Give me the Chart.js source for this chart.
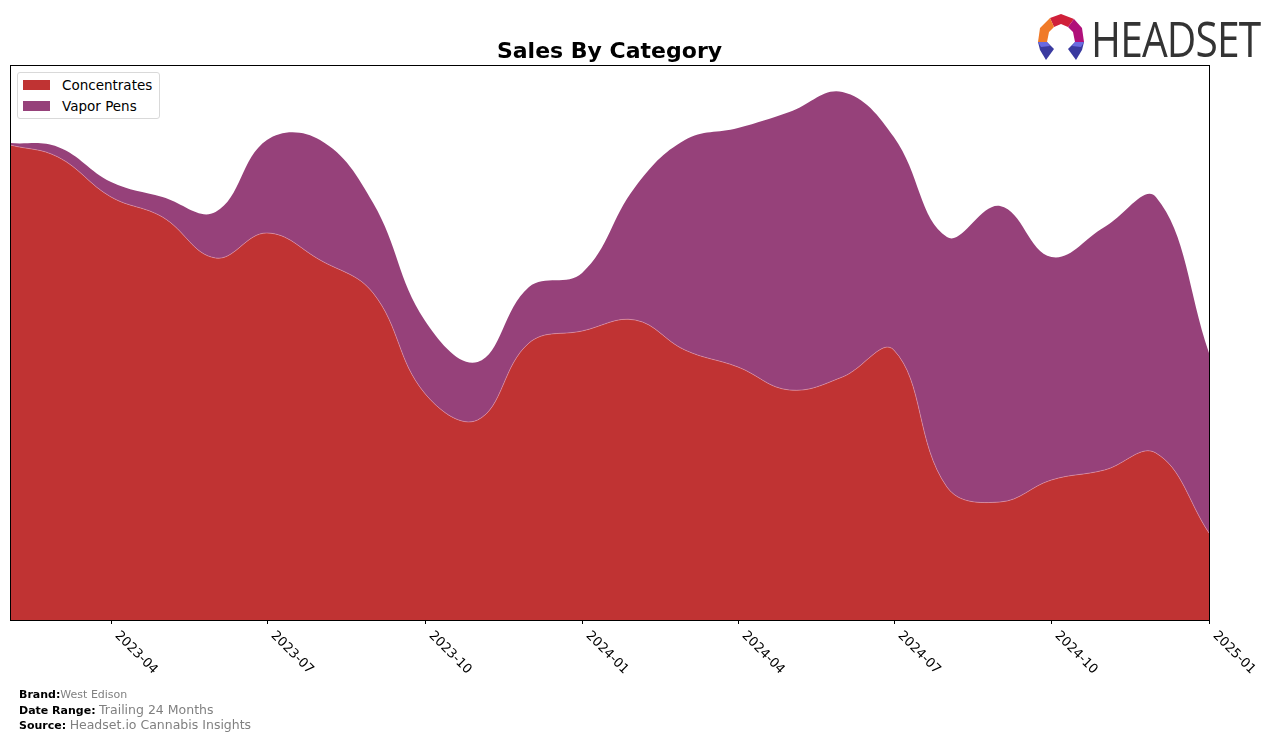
<!DOCTYPE html>
<html>
<head>
<meta charset="utf-8">
<script src="https://cdn.jsdelivr.net/npm/chart.js@4/dist/chart.umd.min.js"></script>
<style>
  html, body { margin: 0; padding: 0; background: #fff; }
  #wrap { position: relative; width: 1276px; height: 741px; overflow: hidden; font-family: "DejaVu Sans", sans-serif; }
  canvas { position: absolute; left: 0; top: 0; }
  #title { position: absolute; left: 0; width: 1219px; top: 38px; text-align: center; font-weight: bold; font-size: 22px; color: #000; }
  #legend { position: absolute; left: 17px; top: 72px; width: 141px; height: 45px; border: 1px solid #d9d9d9; border-radius: 3px; background: #fff; font-size: 13.5px; color: #000; }
  .item { position: absolute; left: 5px; height: 16px; line-height: 16px; }
  .swatch { display: inline-block; width: 27px; height: 10px; vertical-align: middle; margin-right: 12px; position: relative; top: -1px; }
  #footer { position: absolute; left: 19px; top: 688px; font-size: 11px; line-height: 14.5px; color: #000; }
  #footer b { font-weight: bold; }
  #footer span { color: #808080; }
  #logo { position: absolute; left: 1038px; top: 14px; }
  #logotext { position: absolute; left: 1091px; top: 5px; font-family: "Open Sans", sans-serif; font-size: 49px; color: #333; letter-spacing: -1px; transform: scaleX(0.83); transform-origin: left top; }
</style>
</head>
<body>
<div id="wrap">
  <canvas id="chart" width="1276" height="741"></canvas>
  <div id="title">Sales By Category</div>
  <div id="legend">
    <div class="item" style="top:4px"><span class="swatch" style="background:#c03333"></span>Concentrates</div>
    <div class="item" style="top:25px"><span class="swatch" style="background:#96417a"></span>Vapor Pens</div>
  </div>
  <div id="footer">
    <div><b>Brand:</b><span>West Edison</span></div>
    <div><b>Date Range:</b> <span style="font-size:12.5px">Trailing 24 Months</span></div>
    <div><b>Source:</b> <span style="font-size:12.5px">Headset.io Cannabis Insights</span></div>
  </div>
  <svg id="logo" width="48" height="48" viewBox="0 0 48 48">
    <polygon points="12,4 23,0 36,5 30,13 23,10 16,13" fill="#d0203a"/>
    <polygon points="36,5 44,14 46,28 37,28 35,18 30,13" fill="#b0107a"/>
    <polygon points="12,4 16,13 11,18 9,28 0,28 2,14" fill="#f07a28"/>
    <polygon points="0,28 9,28 16,35 8,46 2,36" fill="#3a3aa0"/>
    <polygon points="46,28 37,28 30,35 38,46 44,36" fill="#3a3aa0"/>
    <polygon points="0,28 9,28 12,32 3,33" fill="#6a6ae0"/>
    <polygon points="46,28 37,28 34,32 43,33" fill="#6a6ae0"/>
  </svg>
  <div id="logotext">HEADSET</div>
</div>
<script>
const months = ["2023-02", "2023-03", "2023-04", "2023-05", "2023-06", "2023-07", "2023-08", "2023-09",
  "2023-10", "2023-11", "2023-12", "2024-01", "2024-02", "2024-03", "2024-04", "2024-05", "2024-06",
  "2024-07", "2024-08", "2024-09", "2024-10", "2024-11", "2024-12", "2025-01"];
const concentrates = [475, 463, 423, 403, 362, 387, 360, 327, 227, 200, 277, 289,
  300, 270, 253, 230, 243, 270, 133, 118, 140, 150, 167, 87];
const vaporPens = [2, 10, 15, 20, 46, 93, 120, 90, 73, 58, 56, 58,
  133, 210, 239, 278, 285, 213, 250, 296, 223, 243, 256, 180];
const tickLabels = ["2023-04", "2023-07", "2023-10", "2024-01", "2024-04", "2024-07", "2024-10", "2025-01"];

const DAY = 86400000;
function dayOf(ym) {
  const [y, m] = ym.split("-").map(Number);
  return Date.UTC(y, m - 1, 1) / DAY;
}
const start = dayOf(months[0]);
const end = dayOf(months[months.length - 1]);
const toPoints = (vals) => vals.map((v, i) => ({ x: dayOf(months[i]) - start, y: v }));

const axesPlugin = {
  id: "axesPlugin",
  afterDraw(chart) {
    const { ctx, chartArea: a, scales } = chart;
    ctx.save();
    ctx.strokeStyle = "#000";
    ctx.lineWidth = 1;
    ctx.strokeRect(a.left + 0.5, a.top + 0.5, a.right - a.left, a.bottom - a.top);
    ctx.fillStyle = "#000";
    ctx.font = "13px 'DejaVu Sans'";
    ctx.textAlign = "left";
    ctx.textBaseline = "top";
    tickLabels.forEach((t) => {
      const x = Math.round(scales.x.getPixelForValue(dayOf(t) - start)) + 0.5;
      ctx.beginPath();
      ctx.moveTo(x, a.bottom);
      ctx.lineTo(x, a.bottom + 4);
      ctx.stroke();
      ctx.save();
      ctx.translate(x + 10, a.bottom + 9);
      ctx.rotate(Math.PI / 4);
      ctx.fillText(t, 0, 0);
      ctx.restore();
    });
    ctx.restore();
  }
};

new Chart(document.getElementById("chart"), {
  type: "line",
  data: {
    datasets: [
      {
        label: "Concentrates",
        data: toPoints(concentrates),
        backgroundColor: "#c03333",
        borderColor: "rgba(230,170,200,0.6)",
        borderWidth: 0.8,
        fill: "origin",
        pointRadius: 0,
        tension: 0.4
      },
      {
        label: "Vapor Pens",
        data: toPoints(vaporPens),
        backgroundColor: "#96417a",
        borderColor: "#96417a",
        borderWidth: 0,
        fill: "-1",
        pointRadius: 0,
        tension: 0.4
      }
    ]
  },
  options: {
    responsive: false,
    animation: false,
    devicePixelRatio: 1,
    layout: { padding: { left: 10, right: 67, top: 65, bottom: 121 } },
    plugins: {
      legend: { display: false },
      tooltip: { enabled: false }
    },
    scales: {
      x: { type: "linear", min: 0, max: end - start, display: false },
      y: { stacked: true, min: 0, max: 555, display: false }
    }
  },
  plugins: [axesPlugin]
});
</script>
</body>
</html>
